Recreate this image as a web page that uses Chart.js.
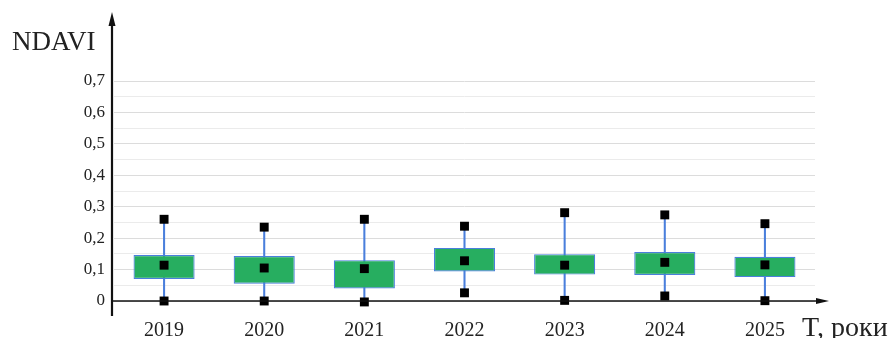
<!DOCTYPE html>
<html>
<head>
<meta charset="utf-8">
<script src="https://cdn.jsdelivr.net/npm/chart.js@4"></script>
<style>
  body { margin: 0; background: #fff; }
</style>
</head>
<body>
<canvas id="chart" width="895" height="338"></canvas>
<script>
const years = ['2019', '2020', '2021', '2022', '2023', '2024', '2025'];
const minVals = [0.000, 0.000, -0.003, 0.026, 0.002, 0.016, 0.001];
const q1Vals = [0.070, 0.055, 0.040, 0.094, 0.084, 0.083, 0.076];
const midVals = [0.114, 0.105, 0.103, 0.128, 0.114, 0.123, 0.115];
const q3Vals = [0.146, 0.143, 0.130, 0.169, 0.149, 0.156, 0.141];
const maxVals = [0.260, 0.235, 0.260, 0.238, 0.281, 0.274, 0.246];

const blue = '#4a7fdc';
const green = '#27ae60';

function pointSet (data) {
  return {
    type: 'line',
    data,
    showLine: false,
    pointStyle: 'rect',
    pointRadius: 6.3,
    pointBackgroundColor: '#000',
    pointBorderWidth: 0,
    clip: false,
    order: 1
  };
}

// axes with arrows and axis captions
const arrowAxes = {
  id: 'arrowAxes',
  afterDraw (chart) {
    const { ctx, chartArea } = chart;
    const y0 = chart.scales.y.getPixelForValue(0);
    const ax = chartArea.left - 2;
    ctx.save();
    ctx.strokeStyle = '#111';
    ctx.fillStyle = '#111';

    ctx.lineWidth = 1.5;
    ctx.beginPath();
    ctx.moveTo(ax, y0);
    ctx.lineTo(820, y0);
    ctx.stroke();
    ctx.beginPath();
    ctx.moveTo(829, y0);
    ctx.lineTo(816, y0 - 3);
    ctx.lineTo(816, y0 + 3);
    ctx.closePath();
    ctx.fill();

    ctx.lineWidth = 2.2;
    ctx.beginPath();
    ctx.moveTo(ax, 316);
    ctx.lineTo(ax, 22);
    ctx.stroke();
    ctx.beginPath();
    ctx.moveTo(ax, 12);
    ctx.lineTo(ax - 3.5, 26);
    ctx.lineTo(ax + 3.5, 26);
    ctx.closePath();
    ctx.fill();

    ctx.fillStyle = '#222';
    ctx.textAlign = 'left';
    ctx.textBaseline = 'alphabetic';
    ctx.font = '27px "Liberation Serif"';
    ctx.fillText('NDAVI', 12, 50);
    ctx.font = '28px "Liberation Serif"';
    ctx.fillText('T, роки', 802, 336);
    ctx.restore();
  }
};

Chart.defaults.font.family = '"Liberation Serif", serif';
Chart.defaults.color = '#222';

// eslint-disable-next-line no-undef
new Chart('chart', {
  type: 'bar',
  data: {
    labels: years,
    datasets: [
      {
        data: years.map((_, i) => [minVals[i], maxVals[i]]),
        backgroundColor: blue,
        barThickness: 1.4,
        grouped: false,
        order: 3
      },
      {
        data: years.map((_, i) => [q1Vals[i], q3Vals[i]]),
        backgroundColor: green,
        borderColor: blue,
        borderWidth: 1.2,
        borderSkipped: false,
        barPercentage: 0.61,
        categoryPercentage: 1,
        grouped: false,
        order: 2
      },
      pointSet(maxVals),
      pointSet(midVals),
      pointSet(minVals)
    ]
  },
  plugins: [arrowAxes],
  options: {
    responsive: false,
    animation: false,
    layout: { padding: { top: 81, right: 80, left: 0, bottom: 0 } },
    plugins: { legend: { display: false }, tooltip: { enabled: false } },
    scales: {
      x: {
        grid: { display: false, drawTicks: false },
        border: { display: false },
        ticks: { font: { size: 20 }, padding: 18, color: '#222' },
        afterFit: scale => { scale.height = 37; }
      },
      y: {
        min: 0,
        max: 0.7,
        border: { display: false },
        grid: {
          drawTicks: false,
          color: c => (Math.round(c.tick.value * 100) % 10 === 0 ? '#dcdcdc' : '#ebebeb'),
          lineWidth: 1
        },
        ticks: {
          stepSize: 0.05,
          maxTicksLimit: 20,
          autoSkip: false,
          padding: 9,
          font: { size: 17 },
          color: '#222',
          callback: v => {
            if (Math.round(v * 100) % 10 !== 0) return '';
            return v === 0 ? '0' : v.toFixed(1).replace('.', ',');
          }
        },
        afterFit: scale => { scale.width = 114; }
      }
    }
  }
});
</script>
</body>
</html>
